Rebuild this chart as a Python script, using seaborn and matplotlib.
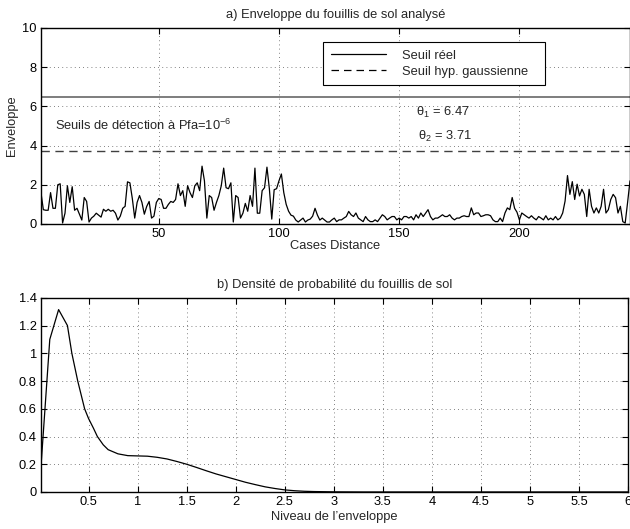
import numpy as np
import pandas as pd
import matplotlib
matplotlib.use("Agg")
import matplotlib.pyplot as plt
from matplotlib.lines import Line2D
from matplotlib.ticker import FuncFormatter
import seaborn as sns

# envelope of the ground clutter, one value per distance cell
envelope = [
    1.6, 0.73, 0.7, 0.7, 1.6, 0.8, 0.8, 2.0, 2.05, 0.05,
    0.55, 1.95, 1.1, 1.9, 0.7, 0.8, 0.5, 0.2, 1.35, 1.15,
    0.1, 0.3, 0.4, 0.55, 0.45, 0.35, 0.75, 0.65, 0.75, 0.65,
    0.7, 0.55, 0.2, 0.4, 0.8, 0.9, 2.15, 2.1, 1.3, 0.3,
    1.1, 1.45, 1.1, 0.5, 0.9, 1.15, 0.3, 0.4, 1.1, 1.3,
    1.25, 0.8, 0.8, 1.0, 1.15, 1.1, 1.25, 2.05, 1.45, 1.7,
    0.9, 1.95, 1.6, 1.35, 1.95, 2.1, 1.7, 2.95, 2.2, 0.3,
    1.45, 1.35, 0.7, 1.1, 1.45, 1.95, 2.85, 1.85, 1.8, 2.1,
    0.1, 1.45, 1.35, 0.3, 0.55, 1.05, 0.65, 1.45, 0.9, 2.85,
    0.55, 0.55, 1.7, 1.85, 2.9, 1.8, 0.25, 1.75, 1.8, 2.2,
    2.55, 1.6, 1.0, 0.65, 0.45, 0.4, 0.2, 0.1, 0.2, 0.3,
    0.1, 0.2, 0.25, 0.4, 0.8, 0.45, 0.2, 0.3, 0.2, 0.1,
    0.1, 0.21, 0.3, 0.12, 0.21, 0.21, 0.3, 0.38, 0.64, 0.47,
    0.38, 0.56, 0.3, 0.21, 0.12, 0.38, 0.21, 0.12, 0.12, 0.21,
    0.12, 0.3, 0.47, 0.38, 0.21, 0.3, 0.38, 0.38, 0.21, 0.3,
    0.21, 0.38, 0.38, 0.3, 0.38, 0.21, 0.47, 0.3, 0.56, 0.38,
    0.56, 0.73, 0.38, 0.21, 0.3, 0.3, 0.38, 0.47, 0.38, 0.38,
    0.47, 0.3, 0.21, 0.3, 0.3, 0.38, 0.42, 0.38, 0.38, 0.82,
    0.47, 0.56, 0.56, 0.38, 0.42, 0.47, 0.47, 0.42, 0.21, 0.12,
    0.12, 0.3, 0.12, 0.56, 0.82, 0.73, 1.35, 0.8, 0.6, 0.21,
    0.56, 0.47, 0.38, 0.3, 0.42, 0.3, 0.21, 0.38, 0.3, 0.21,
    0.42, 0.21, 0.3, 0.21, 0.38, 0.21, 0.3, 0.56, 1.17, 2.47,
    1.51, 2.16, 1.25, 2.03, 1.43, 1.77, 1.51, 0.38, 1.77, 0.9,
    0.56, 0.82, 0.56, 0.9, 1.77, 0.56, 0.73, 1.25, 1.51, 1.34,
    0.56, 0.9, 0.12, 0.05, 1.1, 2.2,
]
cases = list(range(1, len(envelope) + 1))

seuil_reel = 6.47
seuil_gauss = 3.71

# estimated probability density of the clutter envelope
niveau = [0.015, 0.105, 0.195, 0.285, 0.33, 0.39, 0.46, 0.5, 0.55, 0.59,
          0.65, 0.7, 0.8, 0.9, 1.0, 1.1, 1.2, 1.3, 1.4, 1.5,
          1.6, 1.7, 1.8, 1.9, 2.0, 2.1, 2.2, 2.3, 2.4, 2.5,
          2.6, 2.7, 2.8, 3.0, 3.3, 3.6, 4.0, 5.0, 6.0]
densite = [0.18, 1.10, 1.315, 1.2, 1.0, 0.8, 0.6, 0.53, 0.46, 0.4,
           0.34, 0.305, 0.275, 0.262, 0.26, 0.258, 0.25, 0.238, 0.22, 0.2,
           0.177, 0.153, 0.13, 0.11, 0.09, 0.07, 0.053, 0.037, 0.025, 0.015,
           0.009, 0.005, 0.003, 0.001, 0.0, 0.0, 0.0, 0.0, 0.0]

df_env = pd.DataFrame({"case": cases, "env": envelope})
df_pdf = pd.DataFrame({"niveau": niveau, "densite": densite})

sns.set_style("ticks")
plt.rcParams["font.family"] = ["Liberation Sans", "DejaVu Sans"]
plt.rcParams["mathtext.fontset"] = "custom"
plt.rcParams["mathtext.rm"] = "Liberation Sans"
plt.rcParams["mathtext.it"] = "Liberation Sans"
FS = 9.3

fig = plt.figure(figsize=(6.3, 5.29), dpi=100)
ax1 = fig.add_axes([0.065, 0.5766, 0.935, 0.3705])
ax2 = fig.add_axes([0.065, 0.070, 0.932, 0.367])

fmt = FuncFormatter(lambda v, p: f"{v:g}")
grid_kw = dict(color="0.35", linestyle=(0, (1, 4)), linewidth=0.6)

for ax in (ax1, ax2):
    for s in ax.spines.values():
        s.set_linewidth(1.0)
        s.set_color("k")
    ax.tick_params(direction="in", length=4, width=0.8, top=True, right=True,
                   labelsize=FS, pad=3, colors="k")
    ax.grid(True, **grid_kw)
    ax.set_axisbelow(True)

# a) envelope
sns.lineplot(data=df_env, x="case", y="env", ax=ax1, color="k", linewidth=0.9)
ax1.axhline(seuil_reel, color="0.45", linewidth=1.3)
ax1.axhline(seuil_gauss, color="0.25", linewidth=1.0, dashes=(6, 4))
ax1.set_xlim(1, len(envelope))
ax1.set_ylim(0, 10)
ax1.set_xticks([50, 100, 150, 200])
ax1.set_yticks([0, 2, 4, 6, 8, 10])
ax1.xaxis.set_major_formatter(fmt)
ax1.set_xlabel("Cases Distance", fontsize=FS, labelpad=0)
ax1.set_ylabel("Enveloppe", fontsize=FS, labelpad=3)
ax1.set_title("a) Enveloppe du fouillis de sol analysé", fontsize=FS, pad=7)
ax1.text(7, 5.05, "Seuils de détection à Pfa=10$^{-6}$", fontsize=FS, va="center")
ax1.text(157, 5.68, "θ$_1$ = 6.47", fontsize=FS, va="center")
ax1.text(158, 4.48, "θ$_2$ = 3.71", fontsize=FS, va="center")

handles = [Line2D([], [], color="k", linewidth=0.9),
           Line2D([], [], color="k", linewidth=0.9, dashes=(6, 4))]
leg = ax1.legend(handles, ["Seuil réel", "Seuil hyp. gaussienne"],
                 loc="upper left", bbox_to_anchor=(0.479, 0.694, 0.377, 0.235),
                 mode="expand", fontsize=FS, fancybox=False, framealpha=1,
                 edgecolor="k", handlelength=4.3, handletextpad=1.2,
                 borderpad=0.6, labelspacing=0.3, borderaxespad=0)
leg.get_frame().set_linewidth(0.8)

# b) density
sns.lineplot(data=df_pdf, x="niveau", y="densite", ax=ax2, color="k", linewidth=0.9)
ax2.set_xlim(0.015, 6)
ax2.set_ylim(0, 1.4)
ax2.set_xticks(np.arange(0.5, 6.01, 0.5))
ax2.set_yticks(np.arange(0, 1.41, 0.2))
ax2.xaxis.set_major_formatter(fmt)
ax2.yaxis.set_major_formatter(fmt)
ax2.set_xlabel("Niveau de l’enveloppe", fontsize=FS, labelpad=2)
ax2.set_ylabel("")
ax2.set_title("b) Densité de probabilité du fouillis de sol", fontsize=FS, pad=7)

fig.savefig("out.png", dpi=100)
